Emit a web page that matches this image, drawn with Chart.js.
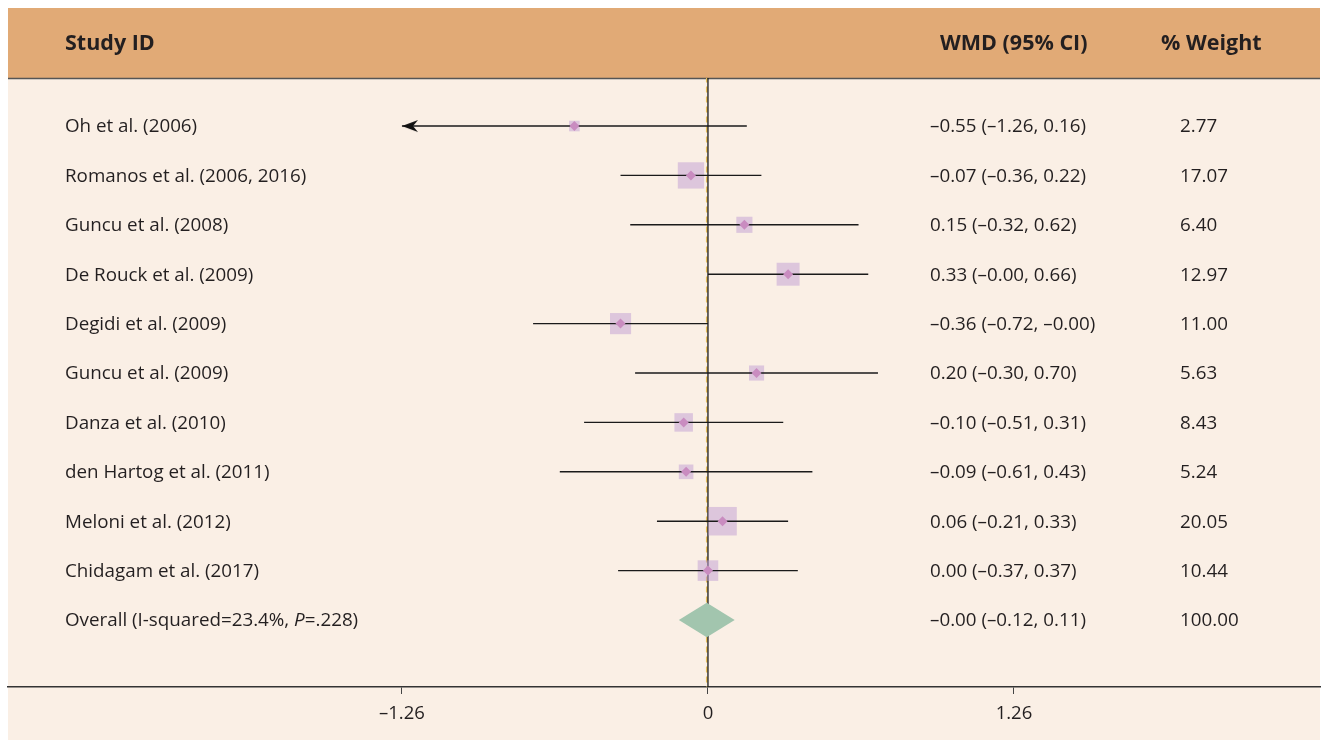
<!DOCTYPE html>
<html>
<head>
<meta charset="utf-8">
<script src="https://cdn.jsdelivr.net/npm/chart.js@4"></script>
<style>
  html, body { margin: 0; padding: 0; background: #fff; }
  #wrap { width: 1322px; height: 742px; }
</style>
</head>
<body>
<div id="wrap"><canvas id="forestChart" width="1322" height="742"></canvas></div>
<script>
// study data
const studies = ['Oh et al. (2006)', 'Romanos et al. (2006, 2016)', 'Guncu et al. (2008)', 'De Rouck et al. (2009)',
  'Degidi et al. (2009)', 'Guncu et al. (2009)', 'Danza et al. (2010)', 'den Hartog et al. (2011)',
  'Meloni et al. (2012)', 'Chidagam et al. (2017)'];
const wmd = [-0.55, -0.07, 0.15, 0.33, -0.36, 0.20, -0.10, -0.09, 0.06, 0.00];
const lower = [-1.26, -0.36, -0.32, -0.00, -0.72, -0.30, -0.51, -0.61, -0.21, -0.37];
const upper = [0.16, 0.22, 0.62, 0.66, -0.00, 0.70, 0.31, 0.43, 0.33, 0.37];
const weights = [2.77, 17.07, 6.40, 12.97, 11.00, 5.63, 8.43, 5.24, 20.05, 10.44];
const overallEst = -0.005;
const overallLo = -0.12;
const overallHi = 0.11;
const overallWeight = 100.00;
const xTicks = [-1.26, 0, 1.26];
const plotLimit = 1.26; // CI beyond this gets an arrow

const FONT = '"Open Sans", "Noto Sans", sans-serif';
const dash = v => (v < 0 || Object.is(v, -0) ? '\u2013' : '') + Math.abs(v).toFixed(2);
const fmtCI = i => dash(wmd[i]) + ' (' + dash(lower[i]) + ', ' + dash(upper[i]) + ')';
const nRows = studies.length + 1;

// arrow head image (tip in the middle of the image so it lands on the point)
const arrow = document.createElement('canvas');
arrow.width = 34; arrow.height = 14;
(function () {
  const a = arrow.getContext('2d');
  a.fillStyle = '#111';
  a.beginPath();
  a.moveTo(17, 7);
  a.lineTo(33, 1);
  a.lineTo(28, 7);
  a.lineTo(33, 13);
  a.closePath();
  a.fill();
})();

const ciSets = studies.map((s, i) => ({
  type: 'line',
  data: [{ x: Math.max(lower[i], -plotLimit), y: i }, { x: Math.min(upper[i], plotLimit), y: i }],
  borderColor: '#1a1a1a',
  borderWidth: 1.4,
  pointRadius: 0,
  order: 2
}));

const arrowPts = [];
studies.forEach((s, i) => { if (lower[i] <= -plotLimit) arrowPts.push({ x: -plotLimit, y: i }); });

const textPlugin = {
  id: 'forestText',
  beforeDraw(chart) {
    const c = chart.ctx;
    c.save();
    c.fillStyle = '#faefe5';
    c.fillRect(8, 78, 1312, 662);
    c.fillStyle = '#e1aa76';
    c.fillRect(8, 8, 1312, 70);
    c.strokeStyle = '#555';
    c.lineWidth = 1.5;
    c.beginPath(); c.moveTo(8, 78.5); c.lineTo(1320, 78.5); c.stroke();
    c.fillStyle = '#231f20';
    c.font = 'bold 21.5px ' + FONT;
    c.textBaseline = 'middle';
    c.fillText('Study ID', 65, 44);
    c.fillText('WMD (95% CI)', 940, 44);
    c.fillText('% Weight', 1161, 44);
    c.restore();
  },
  afterDraw(chart) {
    const c = chart.ctx;
    const ys = chart.scales.y;
    const f = '18.8px ' + FONT;
    c.save();
    c.fillStyle = '#231f20';
    c.font = f;
    c.textBaseline = 'middle';
    studies.forEach((s, i) => {
      const y = ys.getPixelForValue(i) + 1;
      c.fillText(s, 65, y);
      c.fillText(fmtCI(i), 930, y);
      c.fillText(weights[i].toFixed(2), 1180, y);
    });
    const yo = ys.getPixelForValue(studies.length) + 1;
    const p1 = 'Overall (I-squared=23.4%, ';
    c.fillText(p1, 65, yo);
    let x = 65 + c.measureText(p1).width;
    c.font = 'italic ' + f;
    c.fillText('P', x, yo);
    x += c.measureText('P').width;
    c.font = f;
    c.fillText('=.228)', x, yo);
    c.fillText(dash(-0.00) + ' (' + dash(overallLo) + ', ' + dash(overallHi) + ')', 930, yo);
    c.fillText(overallWeight.toFixed(2), 1180, yo);
    c.restore();
  }
};

new Chart(document.getElementById('forestChart'), {
  type: 'scatter',
  data: {
    datasets: [
      {
        // overall effect, dashed
        type: 'line',
        data: [{ x: overallEst, y: -1 }, { x: overallEst, y: nRows + 1 }],
        borderColor: '#e6bd55',
        borderWidth: 1.6,
        borderDash: [6, 4],
        pointRadius: 0,
        order: 6
      },
      {
        // no-effect line
        type: 'line',
        data: [{ x: 0, y: -1 }, { x: 0, y: nRows + 1 }],
        borderColor: '#1a1a1a',
        borderWidth: 1.3,
        pointRadius: 0,
        order: 5
      },
      {
        // weight boxes
        data: wmd.map((v, i) => ({ x: v, y: i })),
        pointStyle: 'rect',
        pointRadius: weights.map(w => 4.5 * Math.sqrt(w)),
        backgroundColor: 'rgba(192, 157, 211, 0.5)',
        borderWidth: 0,
        order: 3
      },
      ...ciSets,
      {
        data: arrowPts,
        pointStyle: arrow,
        order: 1
      },
      {
        data: wmd.map((v, i) => ({ x: v, y: i })),
        pointStyle: 'rectRot',
        pointRadius: 5,
        backgroundColor: '#c98cc0',
        borderWidth: 0,
        order: 1
      },
      {
        // overall diamond
        type: 'line',
        data: [
          { x: overallLo, y: studies.length },
          { x: overallEst, y: studies.length - 0.35 },
          { x: overallHi, y: studies.length },
          { x: overallEst, y: studies.length + 0.35 },
          { x: overallLo, y: studies.length }
        ],
        borderColor: '#a2c5ae',
        borderWidth: 0,
        backgroundColor: '#a2c5ae',
        fill: 'shape',
        pointRadius: 0,
        tension: 0,
        order: 0
      }
    ]
  },
  options: {
    responsive: false,
    animation: false,
    layout: { autoPadding: false, padding: { left: 8, right: 2, top: 78, bottom: 0 } },
    plugins: { legend: { display: false }, tooltip: { enabled: false } },
    scales: {
      x: {
        type: 'linear',
        min: -2.882,
        max: 2.52,
        afterFit(scale) { scale.height = 55; },
        afterBuildTicks(scale) { scale.ticks = xTicks.map(v => ({ value: v })); },
        border: { display: true, color: '#333', width: 1.5 },
        grid: {
          color: 'rgba(0,0,0,0)',
          tickColor: '#444',
          tickLength: 7,
          drawOnChartArea: true
        },
        ticks: {
          color: '#231f20',
          padding: 9,
          font: { family: FONT, size: 18.5 },
          callback: v => (v === 0 ? '0' : dash(v))
        }
      },
      y: {
        type: 'linear',
        reverse: true,
        display: false,
        min: -0.972,
        max: 11.356
      }
    }
  },
  plugins: [textPlugin]
});
</script>
</body>
</html>
